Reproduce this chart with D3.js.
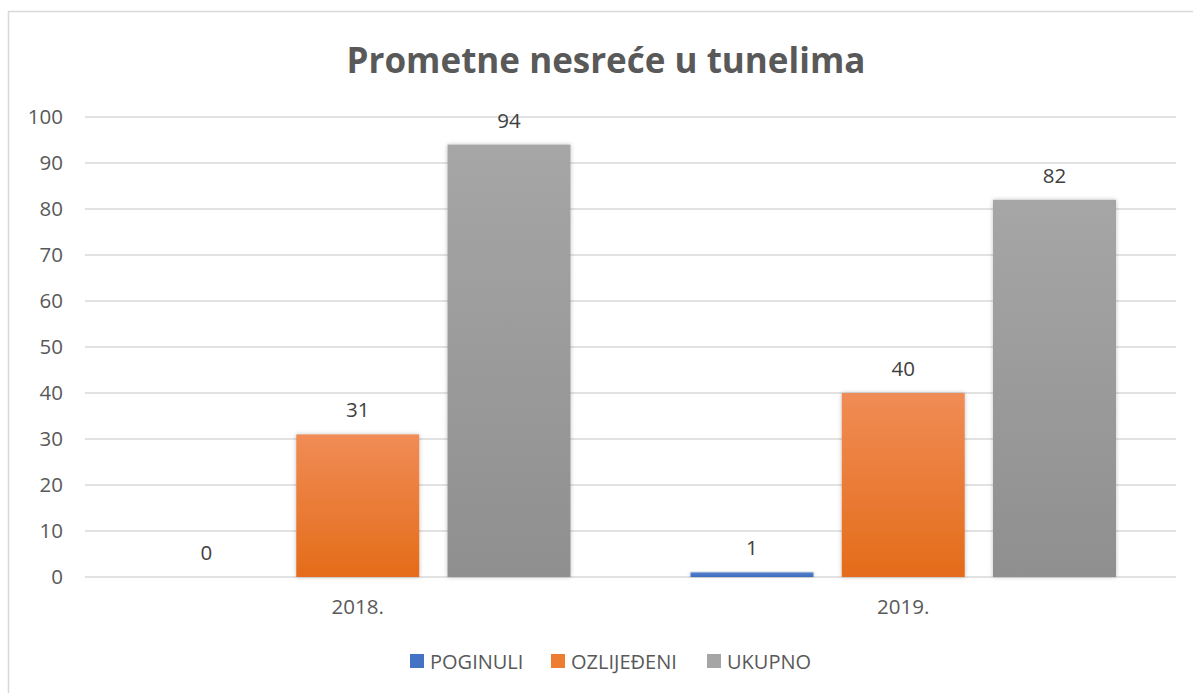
<!DOCTYPE html>
<html>
<head>
<meta charset="utf-8">
<script src="https://cdn.jsdelivr.net/npm/d3@7"></script>
<style>
  body { margin: 0; background: #fff; }
  svg { display: block; font-family: "Open Sans", sans-serif; }
</style>
</head>
<body>
<svg id="chart" width="1193" height="693"></svg>
<script>
"use strict";
// data
var years = ["2018.", "2019."];
var seriesNames = ["POGINULI", "OZLIJEĐENI", "UKUPNO"];
var poginuli = [0, 1];
var ozlijedeni = [31, 40];
var ukupno = [94, 82];
var yTicks = [0, 10, 20, 30, 40, 50, 60, 70, 80, 90, 100];

document.addEventListener("DOMContentLoaded", function () {
    var svg = d3.select("#chart");
    var W = 1193, H = 693;
    var left = 85, right = 1176, top = 117, bottom = 577;

    var colors = [
        { top: "#5480cc", bottom: "#3f6cbf" },
        { top: "#f08c55", bottom: "#e46c1a" },
        { top: "#a6a6a6", bottom: "#8f8f8f" }
    ];
    var legendColors = ["#4472c4", "#ed7d31", "#a5a5a5"];

    var defs = svg.append("defs");
    colors.forEach(function (c, i) {
        var g = defs.append("linearGradient")
            .attr("id", "grad" + i)
            .attr("x1", 0).attr("y1", 0).attr("x2", 0).attr("y2", 1);
        g.append("stop").attr("offset", "0%").attr("stop-color", c.top);
        g.append("stop").attr("offset", "100%").attr("stop-color", c.bottom);
    });
    var f = defs.append("filter").attr("id", "shadow")
        .attr("x", "-10%").attr("y", "-10%").attr("width", "120%").attr("height", "120%");
    f.append("feDropShadow").attr("dx", 0).attr("dy", 0).attr("stdDeviation", 2)
        .attr("flood-color", "#000").attr("flood-opacity", 0.25);

    // chart border (only left/top visible in the crop)
    svg.append("rect")
        .attr("x", 8.5).attr("y", 11.5)
        .attr("width", W + 20).attr("height", H + 20)
        .attr("fill", "none").attr("stroke", "#d9d9d9").attr("stroke-width", 1.5);

    svg.append("text")
        .attr("x", 606).attr("y", 73)
        .attr("text-anchor", "middle")
        .attr("font-size", 35).attr("font-weight", "bold")
        .attr("fill", "#595959")
        .text("Prometne nesreće u tunelima");

    var y = d3.scaleLinear().domain([0, 100]).range([bottom, top]);
    var x0 = d3.scaleBand().domain(years).range([left, right]).padding(0);
    var x1 = d3.scaleBand().domain(seriesNames)
        .range([60, x0.bandwidth() - 60]).paddingInner(0.187);

    // gridlines
    svg.append("g")
        .selectAll("line")
        .data(yTicks)
        .enter()
        .append("line")
        .attr("x1", left).attr("x2", right)
        .attr("y1", function (d) { return y(d); })
        .attr("y2", function (d) { return y(d); })
        .attr("stroke", "#d9d9d9").attr("stroke-width", 1.5);

    // y axis labels
    var yAxis = svg.append("g")
        .attr("transform", "translate(" + (left - 22) + ",0)")
        .call(d3.axisLeft(y).tickValues(yTicks).tickSize(0).tickPadding(0));
    yAxis.select(".domain").remove();
    yAxis.selectAll("text")
        .attr("font-family", "Open Sans, sans-serif")
        .attr("font-size", 20.5).attr("fill", "#595959");

    // x axis labels
    var xAxis = svg.append("g")
        .attr("transform", "translate(0," + bottom + ")")
        .call(d3.axisBottom(x0).tickSize(0).tickPadding(22));
    xAxis.select(".domain").remove();
    xAxis.selectAll("text")
        .attr("font-family", "Open Sans, sans-serif")
        .attr("font-size", 20.5).attr("fill", "#595959");

    var rows = years.map(function (yr, i) {
        return { year: yr, values: [poginuli[i], ozlijedeni[i], ukupno[i]] };
    });

    var groups = svg.selectAll(".grp")
        .data(rows)
        .enter()
        .append("g")
        .attr("class", "grp")
        .attr("transform", function (d) { return "translate(" + x0(d.year) + ",0)"; });

    groups.selectAll("rect")
        .data(function (d) { return d.values.map(function (v, i) { return { v: v, i: i }; }); })
        .enter()
        .append("rect")
        .attr("x", function (d) { return x1(seriesNames[d.i]); })
        .attr("width", x1.bandwidth())
        .attr("y", function (d) { return y(d.v); })
        .attr("height", function (d) { return y(0) - y(d.v); })
        .attr("fill", function (d) { return "url(#grad" + d.i + ")"; })
        .attr("filter", function (d) { return d.v > 0 ? "url(#shadow)" : null; });

    groups.selectAll("text")
        .data(function (d) { return d.values.map(function (v, i) { return { v: v, i: i }; }); })
        .enter()
        .append("text")
        .attr("x", function (d) { return x1(seriesNames[d.i]) + x1.bandwidth() / 2; })
        .attr("y", function (d) { return y(d.v) - 17; })
        .attr("text-anchor", "middle")
        .attr("font-size", 20.5).attr("fill", "#404040")
        .text(function (d) { return d.v; });

    // legend
    var legendX = [410, 551, 707];
    var legend = svg.selectAll(".leg")
        .data(seriesNames)
        .enter()
        .append("g")
        .attr("class", "leg")
        .attr("transform", function (d, i) { return "translate(" + legendX[i] + ",654)"; });
    legend.append("rect")
        .attr("width", 14).attr("height", 14)
        .attr("fill", function (d, i) { return legendColors[i]; });
    legend.append("text")
        .attr("x", 20).attr("y", 14.5)
        .attr("font-size", 20).attr("fill", "#595959")
        .text(function (d) { return d; });
});
</script>
</body>
</html>
